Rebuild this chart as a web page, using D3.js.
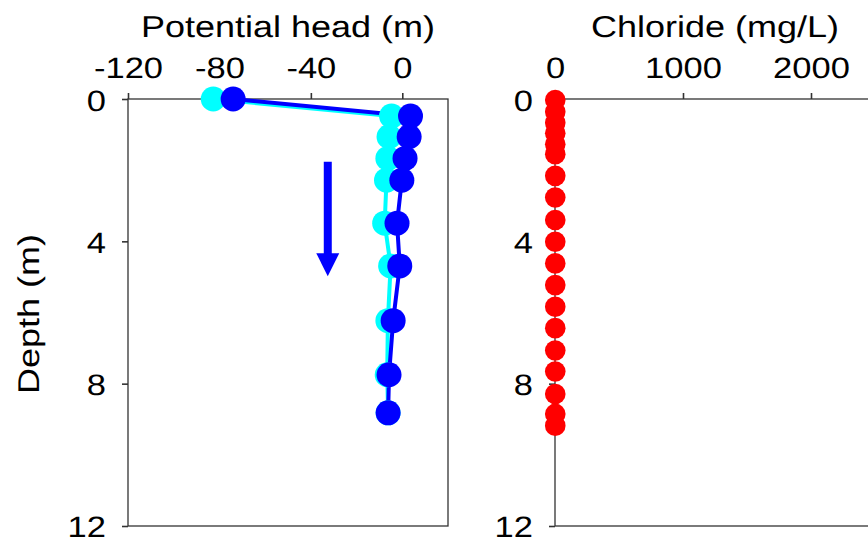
<!DOCTYPE html>
<html>
<head>
<meta charset="utf-8">
<script src="https://cdn.jsdelivr.net/npm/d3@7"></script>
<style>
  html, body { margin: 0; padding: 0; background: #fff; }
  svg { display: block; }
  text { font-family: "Liberation Sans", Arial, sans-serif; fill: #000; text-rendering: geometricPrecision; }
</style>
</head>
<body>
<svg id="chart" width="868" height="540"></svg>
<script>
// Potential head profile (m) at sampled depths
const headDepths = [0, 0.48, 1.06, 1.67, 2.28, 3.49, 4.69, 6.23, 7.75, 8.82];
const headEarly  = [-82.7, -4.7, -5.8, -6.3, -6.9, -7.7, -5.1, -6.3, -6.6, -6.2];
const headLate   = [-74.0, 3.6, 3.0, 1.2, -0.2, -2.3, -1.1, -4.0, -5.8, -6.2];

// Chloride profile (mg/L)
const clDepths = [0.03, 0.36, 0.67, 0.96, 1.27, 1.55, 2.16, 2.77, 3.40, 4.01,
                  4.62, 5.23, 5.84, 6.44, 7.07, 7.66, 8.29, 8.85, 9.18];
const clValues = [2, 2, 2, 2, 2, 2, 2, 2, 2, 2, 2, 2, 2, 2, 2, 2, 2, 2, 2];

// Axis ticks
const headTicks  = [-120, -80, -40, 0];
const clTicks    = [0, 1000, 2000];
const depthTicks = [0, 4, 8, 12];

// Downward-flow arrow (head units, depth in m)
const arrowHead = -32.6, arrowFrom = 1.76, arrowTo = 4.98;

const svg = d3.select("#chart");
const plotTop = 99, plotBottom = 526;
const fs = 29.5, sx = 1.17, sxTitle = 1.2;
const axisColor = "#333";

const y = d3.scaleLinear().domain([0, 12]).range([plotTop, plotBottom]);
const xHead = d3.scaleLinear().domain([-120, 20]).range([128, 448]);
const xCl = d3.scaleLinear().domain([0, 2500]).range([555, 875]);

function panel(x, ticks, title) {
  const [x0, x1] = x.range();
  const g = svg.append("g");
  // frame
  g.append("rect").attr("x", x0).attr("y", plotTop)
    .attr("width", x1 - x0).attr("height", plotBottom - plotTop)
    .attr("fill", "none").attr("stroke", axisColor).attr("stroke-width", 1.3);

  const ax = g.append("g").attr("transform", `translate(0,${plotTop})`)
    .call(d3.axisTop(x).tickValues(ticks).tickSize(6).tickSizeOuter(0).tickFormat(d3.format("d")));
  ax.select(".domain").remove();
  ax.selectAll("line").attr("stroke", axisColor).attr("stroke-width", 1.6);
  ax.selectAll("text").attr("y", null).attr("dy", null)
    .attr("font-size", fs).attr("fill", "#000")
    .attr("font-family", "Liberation Sans, Arial, sans-serif")
    .attr("transform", `translate(0,-21) scale(${sx},1)`)
    .text(d => d < 0 ? "-" + Math.abs(d) : d);

  const ay = g.append("g").attr("transform", `translate(${x0},0)`)
    .call(d3.axisLeft(y).tickValues(depthTicks).tickSize(6).tickSizeOuter(0));
  ay.select(".domain").remove();
  ay.selectAll("line").attr("stroke", axisColor).attr("stroke-width", 1.6);
  ay.selectAll("text").attr("x", null).attr("dy", null)
    .attr("font-size", fs).attr("fill", "#000")
    .attr("font-family", "Liberation Sans, Arial, sans-serif")
    .attr("text-anchor", "end")
    .attr("transform", d => `translate(-22,${d === 12 ? 10 : 11}) scale(${sx},1)`);

  g.append("text")
    .attr("transform", `translate(${(x0 + x1) / 2},37) scale(${sxTitle},1)`)
    .attr("text-anchor", "middle").attr("font-size", 30)
    .text(title);
  return g;
}

const leftPanel = panel(xHead, headTicks, "Potential head (m)");
const rightPanel = panel(xCl, clTicks, "Chloride (mg/L)");

// Depth axis title
svg.append("text")
  .attr("transform", `translate(39,314) rotate(-90) scale(${sxTitle},1)`)
  .attr("text-anchor", "middle").attr("font-size", 30)
  .text("Depth (m)");

// Head profiles
const line = (vals) => d3.line()
  .x((d, i) => xHead(vals[i]))
  .y((d, i) => y(headDepths[i]))(headDepths);

leftPanel.append("path").attr("d", line(headEarly))
  .attr("fill", "none").attr("stroke", "#00FFFF").attr("stroke-width", 4);
leftPanel.append("path").attr("d", line(headLate))
  .attr("fill", "none").attr("stroke", "#0000FF").attr("stroke-width", 4);

leftPanel.append("g").selectAll("circle").data(headDepths).join("circle")
  .attr("cx", (d, i) => xHead(headEarly[i])).attr("cy", d => y(d))
  .attr("r", 12.5).attr("fill", "#00FFFF");
leftPanel.append("g").selectAll("circle").data(headDepths).join("circle")
  .attr("cx", (d, i) => xHead(headLate[i])).attr("cy", d => y(d))
  .attr("r", 12.5).attr("fill", "#0000FF");

// Arrow
const ax0 = xHead(arrowHead), ay0 = y(arrowFrom), ay1 = y(arrowTo);
const headLen = 23, headW = 23;
leftPanel.append("line").attr("x1", ax0).attr("x2", ax0)
  .attr("y1", ay0).attr("y2", ay1 - headLen + 1)
  .attr("stroke", "#0000FF").attr("stroke-width", 8);
leftPanel.append("path")
  .attr("d", `M${ax0 - headW / 2},${ay1 - headLen}L${ax0 + headW / 2},${ay1 - headLen}L${ax0},${ay1}Z`)
  .attr("fill", "#0000FF");

// Chloride points
rightPanel.append("g").selectAll("circle").data(clDepths).join("circle")
  .attr("cx", (d, i) => xCl(clValues[i])).attr("cy", d => y(d))
  .attr("r", 10.3).attr("fill", "#FF0000");
</script>
</body>
</html>
